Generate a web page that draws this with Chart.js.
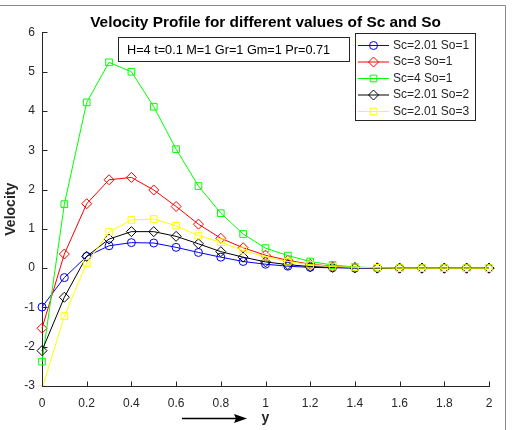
<!DOCTYPE html>
<html><head><meta charset="utf-8">
<script src="https://cdn.jsdelivr.net/npm/chart.js@4/dist/chart.umd.min.js"></script>
<style>html,body{margin:0;padding:0;background:#fff;}canvas{display:block;}</style>
</head><body>
<canvas id="c" width="512" height="430"></canvas>
<script>
// ---- data ----
const yPositions = [0,0.1,0.2,0.3,0.4,0.5,0.6,0.7,0.8,0.9,1.0,1.1,1.2,1.3,1.4,1.5,1.6,1.7,1.8,1.9,2.0];
const xTickLabels = ['0','0.2','0.4','0.6','0.8','1','1.2','1.4','1.6','1.8','2'];
const yTickLabels = ['-3','-2','-1','0','1','2','3','4','5','6'];
const seriesNames = ['Sc=2.01 So=1','Sc=3 So=1','Sc=4 So=1','Sc=2.01 So=2','Sc=2.01 So=3'];
const velSc201So1 = [-0.99,-0.24,0.30,0.57,0.65,0.64,0.53,0.40,0.28,0.17,0.10,0.05,0.02,0.01,0,0,0,0,0,0,0];
const velSc3So1   = [-1.53,0.36,1.64,2.25,2.31,1.99,1.57,1.12,0.76,0.52,0.33,0.20,0.10,0.05,0.02,0.01,0,0,0,0,0];
const velSc4So1   = [-2.38,1.63,4.22,5.24,5.00,4.11,3.03,2.09,1.40,0.87,0.51,0.32,0.17,0.08,0.03,0.01,0,0,0,0,0];
const velSc201So2 = [-2.10,-0.74,0.30,0.74,0.93,0.93,0.81,0.62,0.42,0.28,0.16,0.09,0.04,0.02,0.01,0,0,0,0,0,0];
const velSc201So3 = [-3.08,-1.22,0.13,0.92,1.23,1.25,1.08,0.83,0.66,0.45,0.29,0.17,0.09,0.04,0.02,0.01,0,0,0,0,0];
const titleText = 'Velocity Profile for different values of Sc and So';
const paramText = 'H=4 t=0.1 M=1 Gr=1 Gm=1 Pr=0.71';
const xTitle = 'y';
const yTitle = 'Velocity';

// ---- styles ----
const FONT = "'Liberation Sans', Arial, sans-serif";
const AX = '#262626';
const seriesValues = [velSc201So1, velSc3So1, velSc4So1, velSc201So2, velSc201So3];
const colors = ['#0000ff', '#ff0000', '#00ff00', '#000000', '#ffff00'];
const styles = ['circle', 'rectRot', 'rect', 'rectRot', 'rect'];
const radii = [4, 5, 4.7, 5, 4.7];

const datasets = seriesValues.map((vals, k) => ({
  label: seriesNames[k],
  data: yPositions.map((x, i) => ({x: x, y: vals[i]})),
  borderColor: colors[k],
  borderWidth: 1,
  pointStyle: styles[k],
  pointRadius: radii[k],
  pointBorderColor: colors[k],
  pointBackgroundColor: 'rgba(0,0,0,0)',
  pointBorderWidth: 1,
  tension: 0,
  order: seriesValues.length - 1 - k,
  clip: {left: 8, right: 8, top: 8, bottom: 0}
}));

const decor = {
  id: 'decor',
  afterLayout(chart) {
    // center the title over the plot area, as in the reference
    if (chart.titleBlock) {
      chart.titleBlock.left = chart.chartArea.left;
      chart.titleBlock.right = chart.chartArea.right;
    }
  },
  beforeDraw(chart) {
    const ctx = chart.ctx;
    ctx.save();
    ctx.fillStyle = '#fff';
    ctx.fillRect(0, 0, chart.width, chart.height);
    ctx.strokeStyle = '#8a8a8a';
    ctx.lineWidth = 1;
    ctx.beginPath();
    ctx.moveTo(0, 5.5); ctx.lineTo(505.5, 5.5); ctx.lineTo(505.5, 430);
    ctx.stroke();
    ctx.restore();
  },
  afterDraw(chart) {
    const ctx = chart.ctx;
    const xs = chart.scales.x, ys = chart.scales.y;
    const a = chart.chartArea;
    ctx.save();
    // inward ticks
    ctx.strokeStyle = AX; ctx.lineWidth = 1;
    ctx.beginPath();
    xs.ticks.forEach(t => {
      const px = Math.round(xs.getPixelForValue(t.value)) + 0.5;
      ctx.moveTo(px, Math.round(a.bottom) + 0.5); ctx.lineTo(px, Math.round(a.bottom) - 4.5);
    });
    ys.ticks.forEach(t => {
      const py = Math.round(ys.getPixelForValue(t.value)) + 0.5;
      ctx.moveTo(Math.round(a.left) + 0.5, py); ctx.lineTo(Math.round(a.left) + 5.5, py);
    });
    ctx.stroke();

    // parameter box
    ctx.fillStyle = '#fff';
    ctx.fillRect(118.5, 37.5, 231, 24);
    ctx.strokeStyle = AX;
    ctx.strokeRect(118.5, 37.5, 231, 24);
    ctx.fillStyle = '#000';
    ctx.font = '12.7px ' + FONT;
    ctx.textBaseline = 'middle';
    ctx.textAlign = 'left';
    ctx.fillText(paramText, 127, 50);

    // legend
    ctx.fillStyle = '#fff';
    ctx.fillRect(355.5, 33.5, 120, 87);
    ctx.strokeStyle = AX;
    ctx.strokeRect(355.5, 33.5, 120, 87);
    ctx.font = '12px ' + FONT;
    const rows = [45.5, 62, 78.5, 95, 111.5];
    datasets.forEach((d, k) => {
      const y = rows[k];
      ctx.strokeStyle = d.borderColor; ctx.lineWidth = 1;
      ctx.beginPath(); ctx.moveTo(358, y); ctx.lineTo(389, y); ctx.stroke();
      ctx.fillStyle = 'rgba(0,0,0,0)';
      Chart.helpers.drawPoint(ctx, {pointStyle: d.pointStyle, radius: d.pointRadius, rotation: 0, borderWidth: 1}, 373.5, y);
      ctx.fillStyle = AX;
      ctx.fillText(d.label, 393, y);
    });

    // arrow under x axis
    ctx.strokeStyle = '#000'; ctx.fillStyle = '#000'; ctx.lineWidth = 1.5;
    ctx.beginPath(); ctx.moveTo(182, 418.5); ctx.lineTo(238, 418.5); ctx.stroke();
    ctx.beginPath(); ctx.moveTo(247, 418.5); ctx.lineTo(234, 414); ctx.lineTo(236, 418.5); ctx.lineTo(234, 423); ctx.closePath(); ctx.fill();
    ctx.restore();
  }
};

new Chart(document.getElementById('c'), {
  type: 'line',
  data: {datasets: datasets},
  plugins: [decor],
  options: {
    responsive: false,
    animation: false,
    devicePixelRatio: 1,
    layout: {padding: {left: 0, right: 23, top: 0, bottom: 0}},
    plugins: {
      legend: {display: false},
      tooltip: {enabled: false},
      title: {
        display: true, text: titleText, color: '#000',
        font: {family: FONT, size: 15.4, weight: 'bold'},
        padding: {top: 14, bottom: 0}
      }
    },
    scales: {
      x: {
        type: 'linear', position: 'bottom', min: 0, max: 2,
        afterFit(s) { s.height = 44; },
        grid: {display: false, drawTicks: false},
        border: {display: true, color: AX, width: 1},
        ticks: {stepSize: 0.2, autoSkip: false, maxRotation: 0, color: AX, padding: 10,
          font: {family: FONT, size: 12},
          callback: (v, i) => xTickLabels[i]},
        title: {display: true, text: xTitle, color: AX, font: {family: FONT, size: 14, weight: 'bold'}, padding: {top: 0, bottom: 3}}
      },
      y: {
        min: -3, max: 6,
        afterFit(s) { s.width = 42; },
        grid: {display: false, drawTicks: false},
        border: {display: true, color: AX, width: 1},
        ticks: {stepSize: 1, autoSkip: false, color: AX, padding: 7,
          font: {family: FONT, size: 12},
          callback: (v, i) => yTickLabels[i]},
        title: {display: true, text: yTitle, color: AX, font: {family: FONT, size: 14, weight: 'bold'}, padding: {top: 2.7, bottom: 0}}
      }
    }
  }
});
</script>
</body></html>
